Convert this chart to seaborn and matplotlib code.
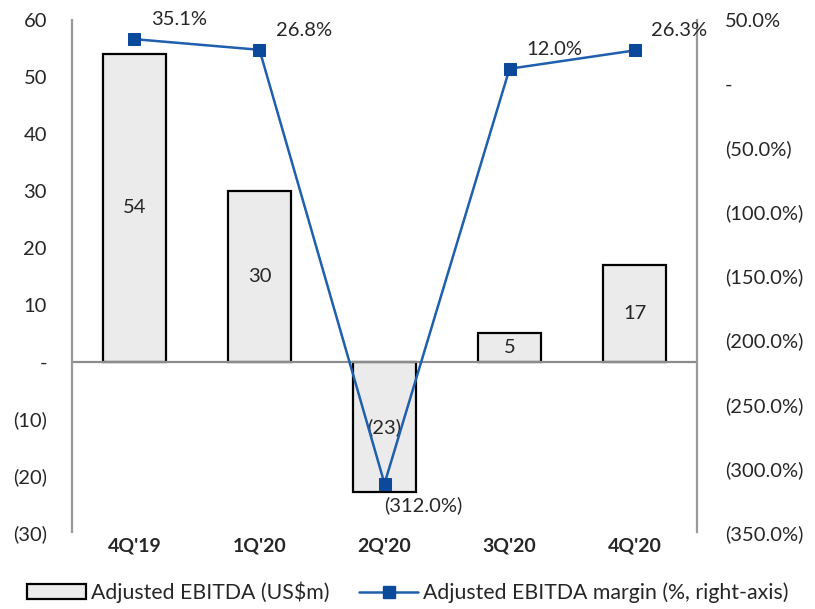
import matplotlib
matplotlib.use("Agg")
import numpy as np
import pandas as pd
import seaborn as sns
import matplotlib.pyplot as plt
from matplotlib.ticker import FuncFormatter
from matplotlib.patches import Patch
from matplotlib.lines import Line2D

quarters = ["4Q'19", "1Q'20", "2Q'20", "3Q'20", "4Q'20"]
ebitda = [54, 30, -23, 5, 17]
margin = [35.1, 26.8, -312.0, 12.0, 26.3]

BAR_FILL = "#EBEBEB"
LINE_COLOR = "#1F5FAD"
MARKER_COLOR = "#0B4A9A"
TEXT = "#262626"
FS = 14.5

sns.set_style("white")
plt.rcParams["font.family"] = ["Lato", "DejaVu Sans"]


def fmt_num(v, _=None):
    if abs(v) < 1e-9:
        return "-"
    if v < 0:
        return f"({abs(v):.0f})"
    return f"{v:.0f}"


def fmt_pct(v, _=None):
    if abs(v) < 1e-9:
        return "-"
    if v < 0:
        return f"({abs(v):.1f}%)"
    return f"{v:.1f}%"


df = pd.DataFrame({"quarter": quarters, "ebitda": ebitda, "margin": margin})

fig = plt.figure(figsize=(8.15, 6.09), dpi=100)
ax = fig.add_axes([0.0883, 0.126, 0.767, 0.841])

sns.barplot(data=df, x="quarter", y="ebitda", ax=ax, color=BAR_FILL,
            edgecolor="black", linewidth=1.6, width=0.5, saturation=1)
ax.set_xlim(-0.5, 4.5)
ax.set_ylim(-30, 60)
ax.set_yticks(np.arange(-30, 61, 10))
ax.yaxis.set_major_formatter(FuncFormatter(fmt_num))
ax.axhline(0, color="#8C8C8C", lw=1.6, zorder=1)
ax.set_xlabel("")
ax.set_ylabel("")
ax.tick_params(axis="y", length=0, labelsize=FS, colors=TEXT, pad=18)
ax.tick_params(axis="x", length=0, labelsize=FS - 0.5, pad=4)
for lbl in ax.get_xticklabels():
    lbl.set_fontweight("bold")
    lbl.set_color(TEXT)
for s in ["top", "bottom"]:
    ax.spines[s].set_visible(False)
ax.spines["left"].set_color("#9A9A9A")
ax.spines["left"].set_linewidth(1.6)
ax.spines["right"].set_visible(False)

for i, v in enumerate(ebitda):
    ax.text(i, v / 2, fmt_num(v), ha="center", va="center",
            fontsize=FS, color=TEXT, zorder=3)

ax2 = ax.twinx()
sns.lineplot(data=df, x="quarter", y="margin", ax=ax2, color=LINE_COLOR,
             lw=1.8, marker="s", markersize=9, markerfacecolor=MARKER_COLOR,
             markeredgecolor=MARKER_COLOR, sort=False, zorder=4)
ax2.set_ylim(-350, 50)
ax2.set_yticks(np.arange(-350, 51, 50))
ax2.yaxis.set_major_formatter(FuncFormatter(fmt_pct))
ax2.set_ylabel("")
ax2.set_xlabel("")
ax2.tick_params(axis="y", length=0, labelsize=FS, colors=TEXT, pad=20)
for s in ["top", "bottom", "left"]:
    ax2.spines[s].set_visible(False)
ax2.spines["right"].set_color("#9A9A9A")
ax2.spines["right"].set_linewidth(1.6)
for lbl in ax2.get_yticklabels():
    lbl.set_horizontalalignment("left")

for i, v in enumerate(margin):
    if v < 0:
        ax2.annotate(fmt_pct(v), (i, v), xytext=(0, -9), textcoords="offset points",
                     ha="left", va="top", fontsize=FS, color=TEXT)
    else:
        ax2.annotate(fmt_pct(v), (i, v), xytext=(12, 8), textcoords="offset points",
                     ha="left", va="bottom", fontsize=FS, color=TEXT)

handles = [
    Patch(facecolor=BAR_FILL, edgecolor="black", linewidth=1.6,
          label="Adjusted EBITDA (US$m)"),
    Line2D([0], [0], color=LINE_COLOR, lw=1.8, marker="s", markersize=9,
           markerfacecolor=MARKER_COLOR, markeredgecolor=MARKER_COLOR,
           label="Adjusted EBITDA margin (%, right-axis)"),
]
fig.legend(handles=handles, loc="lower center", bbox_to_anchor=(0.5, -0.022),
           ncol=2, frameon=False, fontsize=FS + 0.8, handlelength=2.8,
           handletextpad=0.2, columnspacing=1.4, labelcolor=TEXT)

fig.savefig("out.png", dpi=100)
